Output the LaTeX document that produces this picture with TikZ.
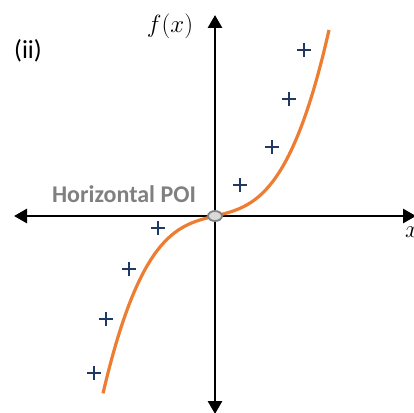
\documentclass[tikz,border=0pt]{standalone}
\usepackage{fontspec}
\setmainfont{Carlito}
\usepackage{tikz}
\usetikzlibrary{shapes.geometric, arrows.meta, positioning}

\definecolor{curveorange}{HTML}{ED7D31}
\definecolor{plusblue}{HTML}{1F3864}
\definecolor{poigrey}{HTML}{808080}
\definecolor{poifill}{HTML}{D9D9D9}

\begin{document}
\begin{tikzpicture}[
    x=1pt, y=-1pt,
    axis/.style={line width=2.8pt, {Triangle[length=13pt, width=14pt]}-{Triangle[length=13pt, width=14pt]}},
    curve/.style={line width=3.2pt, curveorange},
    plusmark/.style={line width=1.3pt, plusblue},
    poi/.style={ellipse, draw=poigrey, fill=poifill, line width=1.8pt, minimum width=14pt, minimum height=10pt, inner sep=0pt},
    lbl/.style={font=\fontsize{26}{30}\selectfont, inner sep=0pt},
    poilbl/.style={font=\fontsize{24}{28}\selectfont\bfseries, text=poigrey, inner sep=0pt}
  ]
  \useasboundingbox (0,0) rectangle (414,412);

  % axes
  \coordinate (xl) at (14,216);
  \coordinate (xr) at (416,216);
  \coordinate (yt) at (215,15);
  \coordinate (yb) at (215,414);
  \draw[axis] (xl) -- (xr);
  \draw[axis] (yb) -- (yt);

  % labels
  \node[lbl] (fx) at (170,26) {$f(x)$};
  \node[lbl, anchor=west] (xlab) at (405,232) {$x$};
  \node[lbl] (part) at (28,51) {(ii)};
  \node[poilbl] (poitext) at (124,194) {Horizontal POI};

  % data points
  \foreach \px/\py in {304/50, 289/99, 272/147, 240/185, 158/228, 129/269, 106/319, 94/373}
    \draw[plusmark] (\px,\py) +(-7,0) -- +(7,0) +(0,-7) -- +(0,7);

  % the cubic
  \draw[curve] plot[domain=-112:114, samples=80, smooth]
    ({215+\x}, {216-0.24*\x-0.1071*(\x/10)*(\x/10)*(\x/10)});

  % point of inflection
  \node[poi] (origin) at (215,216) {};
\end{tikzpicture}
\end{document}
